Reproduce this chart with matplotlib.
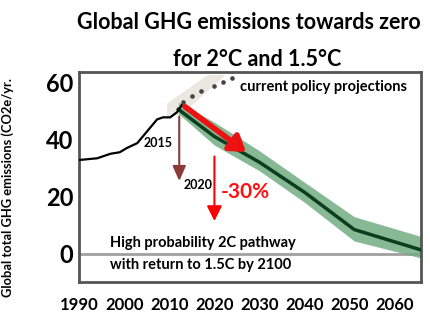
import matplotlib
matplotlib.use("Agg")
import matplotlib.pyplot as plt
from matplotlib.patches import Polygon

plt.rcParams['font.family'] = ['Lato', 'DejaVu Sans']

# historical emissions
hist_years = [1990, 1994, 1997, 1999, 2000.6, 2002.9, 2005.7, 2007.3, 2008.6, 2010.2, 2011.7, 2012.8]
hist_vals = [32.8, 33.4, 35.0, 35.5, 37.0, 38.7, 44.0, 47.0, 47.7, 47.7, 49.5, 52.0]

# current policy projections (dotted)
cpp_years = [2013, 2015, 2017, 2020, 2022, 2024]
cpp_vals = [53.0, 55.0, 57.0, 58.8, 60.0, 61.3]

# 2C pathway
path_years = [2012, 2020, 2030, 2040, 2051, 2066]
path_mid = [50.5, 41.0, 32.0, 21.5, 8.5, 1.3]
path_hi = [53.0, 46.0, 36.0, 25.0, 13.0, 6.0]
path_lo = [49.0, 38.0, 29.0, 18.0, 4.5, -1.5]

xtick_years = [1990, 2000, 2010, 2020, 2030, 2040, 2050, 2060]
ytick_vals = [0, 20, 40, 60]

fig = plt.figure(figsize=(4.3, 3.15), dpi=100)
ax = fig.add_axes([0.184, 0.105, 0.795, 0.666])
ax.set_xlim(1990, 2065.8)
ax.set_ylim(-9.8, 63.5)

# beige ribbon behind projections
ax.add_patch(Polygon([(2009.5, 47.5), (2009.5, 52.5), (2018.5, 62.5), (2022.5, 62.5), (2013, 49)],
                     closed=True, facecolor='#ebe9df', edgecolor='none', zorder=1))

# zero line
ax.axhline(0, color='#a0a0a0', lw=2, zorder=1)

ax.fill_between(path_years, path_lo, path_hi, color='#72ad82', alpha=0.85, lw=0, zorder=2)
ax.plot(path_years, path_mid, color='#0b3d1f', lw=2.5, zorder=3)
ax.plot(hist_years, hist_vals, color='black', lw=1.6, zorder=4)
ax.plot(cpp_years, cpp_vals, color='#444444', lw=0, marker='o', ms=2.3, zorder=4)

# red arrow along pathway
ax.annotate('', xy=(2027.5, 35), xytext=(2013, 52),
            arrowprops=dict(arrowstyle='-|>,head_length=0.9,head_width=0.6', color='#ee1111', lw=4),
            zorder=5)
# brown arrow
ax.annotate('', xy=(2012.2, 24.5), xytext=(2012.2, 49),
            arrowprops=dict(arrowstyle='-|>,head_length=0.9,head_width=0.4', color='#8b3a3a', lw=1.5),
            zorder=5)
# red vertical arrow
ax.annotate('', xy=(2020, 10.5), xytext=(2020, 35),
            arrowprops=dict(arrowstyle='-|>,head_length=0.9,head_width=0.45', color='#ff0000', lw=1.5),
            zorder=5)

ax.text(2007.5, 38.7, '2015', fontsize=9, fontweight='bold', ha='center', va='center')
ax.text(2016.4, 24, '2020', fontsize=9, fontweight='bold', ha='center', va='center')
ax.text(2026.8, 21.6, '-30%', fontsize=15, fontweight='bold', color='#ff1111', ha='center', va='center')
ax.text(2044.1, 58.2, 'current policy projections', fontsize=10.5, fontweight='bold', ha='center', va='center')
ax.text(1996.9, 3.9, 'High probability 2C pathway', fontsize=10.5, fontweight='bold', ha='left', va='center')
ax.text(1996.9, -3.8, 'with return to 1.5C by 2100', fontsize=10.5, fontweight='bold', ha='left', va='center')

ax.set_xticks(xtick_years)
ax.set_xticklabels([str(y) for y in xtick_years], fontsize=12, fontweight='bold')
ax.set_yticks(ytick_vals)
ax.set_yticklabels([str(v) for v in ytick_vals], fontsize=17, fontweight='bold')
ax.tick_params(axis='x', length=0, pad=11)
ax.tick_params(axis='y', length=0, pad=4)
for s in ax.spines.values():
    s.set_color('#555555')
    s.set_linewidth(2)

ax.set_ylabel('Global total GHG emissions (CO2e/yr.', fontsize=9.3, fontweight='bold')
ax.yaxis.set_label_coords(-0.19, 0.45)

fig.text(0.579, 0.93, 'Global GHG emissions towards zero', fontsize=15.5, fontweight='bold', ha='center', va='center')
fig.text(0.598, 0.81, 'for 2°C and 1.5°C', fontsize=15.5, fontweight='bold', ha='center', va='center')

fig.savefig('out.png', dpi=100)
